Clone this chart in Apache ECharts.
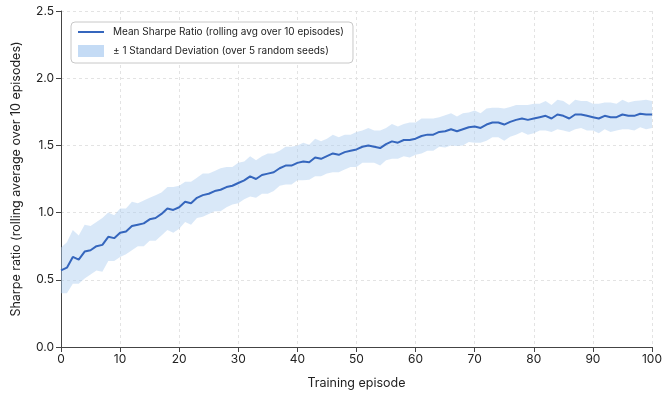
<!DOCTYPE html>
<html>
<head>
<meta charset="utf-8">
<script src="https://cdn.jsdelivr.net/npm/echarts@6/dist/echarts.min.js"></script>
<style>html,body{margin:0;padding:0;background:#fff}#c{width:665px;height:398px}</style>
</head>
<body>
<div id="c"></div>
<script>
var episodes = [];
for (var i = 0; i <= 100; i++) episodes.push(String(i));

var meanSharpe = [
  0.57,0.59,0.67,0.65,0.71,0.72,0.75,0.76,0.82,0.81,
  0.85,0.86,0.90,0.91,0.92,0.95,0.96,0.99,1.03,1.02,
  1.04,1.08,1.07,1.11,1.13,1.14,1.16,1.17,1.19,1.20,
  1.22,1.24,1.27,1.25,1.28,1.29,1.30,1.33,1.35,1.35,
  1.37,1.38,1.375,1.41,1.40,1.42,1.44,1.43,1.45,1.46,
  1.47,1.49,1.50,1.49,1.48,1.51,1.53,1.52,1.54,1.54,
  1.55,1.57,1.58,1.58,1.60,1.605,1.62,1.605,1.62,1.635,
  1.64,1.63,1.655,1.67,1.67,1.655,1.675,1.69,1.70,1.69,
  1.70,1.71,1.72,1.70,1.73,1.72,1.70,1.73,1.73,1.72,
  1.71,1.70,1.72,1.71,1.71,1.73,1.72,1.72,1.735,1.73,
  1.73
];

var stdSharpe = [
  0.17,0.19,0.20,0.18,0.20,0.18,0.18,0.20,0.18,0.17,
  0.18,0.17,0.18,0.16,0.17,0.16,0.17,0.16,0.16,0.17,
  0.16,0.15,0.16,0.15,0.16,0.15,0.15,0.16,0.15,0.14,
  0.15,0.14,0.15,0.14,0.14,0.15,0.14,0.13,0.14,0.14,
  0.13,0.14,0.13,0.14,0.13,0.13,0.14,0.13,0.13,0.12,
  0.13,0.12,0.13,0.12,0.13,0.12,0.13,0.12,0.12,0.13,
  0.12,0.13,0.12,0.12,0.11,0.12,0.12,0.11,0.12,0.11,
  0.12,0.11,0.12,0.11,0.11,0.12,0.11,0.11,0.10,0.11,
  0.11,0.10,0.11,0.10,0.11,0.11,0.10,0.11,0.10,0.11,
  0.10,0.11,0.10,0.11,0.10,0.11,0.10,0.11,0.10,0.11,
  0.10
];

var xTicks = [0,10,20,30,40,50,60,70,80,90,100];
var yTicks = [0.0,0.5,1.0,1.5,2.0,2.5];

var meanName = 'Mean Sharpe Ratio (rolling avg over 10 episodes)';
var stdName = '± 1 Standard Deviation (over 5 random seeds)';

var lowerData = [], bandData = [];
for (var k = 0; k < episodes.length; k++) {
  lowerData.push(+(meanSharpe[k] - stdSharpe[k]).toFixed(4));
  bandData.push(+(2 * stdSharpe[k]).toFixed(4));
}

var lineColor = '#3566bd';
var bandColor = 'rgba(170,203,240,0.45)';
var FONT = 'Inter, Roboto, sans-serif';

var chart = echarts.init(document.getElementById('c'), null, {renderer: 'canvas'});
chart.setOption({
  animation: false,
  grid: {left: 61, right: 12, top: 11, bottom: 51, containLabel: false},
  legend: {
    orient: 'vertical',
    left: 71, top: 22,
    padding: [5, 9, 6, 7],
    itemGap: 8,
    itemWidth: 26, itemHeight: 12,
    borderColor: '#c8c8c8', borderWidth: 1, borderRadius: 4,
    backgroundColor: '#fff',
    textStyle: {fontFamily: FONT, fontSize: 10, color: '#222', padding: [0, 0, 0, 4]},
    data: [
      {name: meanName, icon: 'path://M0,5 L26,5 L26,7 L0,7 Z', itemStyle: {color: lineColor}},
      {name: stdName, icon: 'rect', itemStyle: {color: 'rgba(196,219,245,1)'}}
    ]
  },
  xAxis: [
    {
      type: 'category', data: episodes, boundaryGap: false, show: false,
      axisLine: {show: false}, axisTick: {show: false}, axisLabel: {show: false}, splitLine: {show: false}
    },
    {
      type: 'value', min: 0, max: 100, interval: 10, position: 'bottom',
      name: 'Training episode', nameLocation: 'middle', nameGap: 30,
      nameTextStyle: {fontFamily: FONT, fontSize: 12.5, color: '#222'},
      axisLine: {show: true, onZero: false, lineStyle: {color: '#444', width: 1}},
      axisTick: {show: true, length: 5, lineStyle: {color: '#444'}},
      axisLabel: {fontFamily: FONT, fontSize: 12, color: '#222', margin: 6, customValues: xTicks},
      splitLine: {show: true, lineStyle: {color: '#e3e3e3', type: [3, 3]}}
    }
  ],
  yAxis: {
    type: 'value', min: 0, max: 2.5, interval: 0.5,
    name: 'Sharpe ratio (rolling average over 10 episodes)', nameLocation: 'middle', nameGap: 38,
    nameTextStyle: {fontFamily: FONT, fontSize: 12.5, color: '#222'},
    axisLine: {show: true, lineStyle: {color: '#444', width: 1}},
    axisTick: {show: true, length: 5, lineStyle: {color: '#444'}},
    axisLabel: {fontFamily: FONT, fontSize: 12, color: '#222', margin: 7,
      customValues: yTicks,
      formatter: function (v) { return Number(v).toFixed(1); }},
    splitLine: {show: true, lineStyle: {color: '#e3e3e3', type: [3, 3]}}
  },
  series: [
    {
      name: 'lower', type: 'line', stack: 'band', data: lowerData, xAxisIndex: 0,
      showSymbol: false, symbol: 'none', silent: true,
      lineStyle: {opacity: 0}, areaStyle: {opacity: 0}
    },
    {
      name: stdName, type: 'line', stack: 'band', data: bandData, xAxisIndex: 0,
      showSymbol: false, symbol: 'none', silent: true,
      itemStyle: {color: bandColor},
      lineStyle: {opacity: 0}, areaStyle: {color: bandColor, opacity: 1}
    },
    {
      name: meanName, type: 'line', data: meanSharpe, xAxisIndex: 0,
      showSymbol: false, symbol: 'none',
      itemStyle: {color: lineColor},
      lineStyle: {color: lineColor, width: 2}, z: 5
    }
  ]
});
</script>
</body>
</html>
